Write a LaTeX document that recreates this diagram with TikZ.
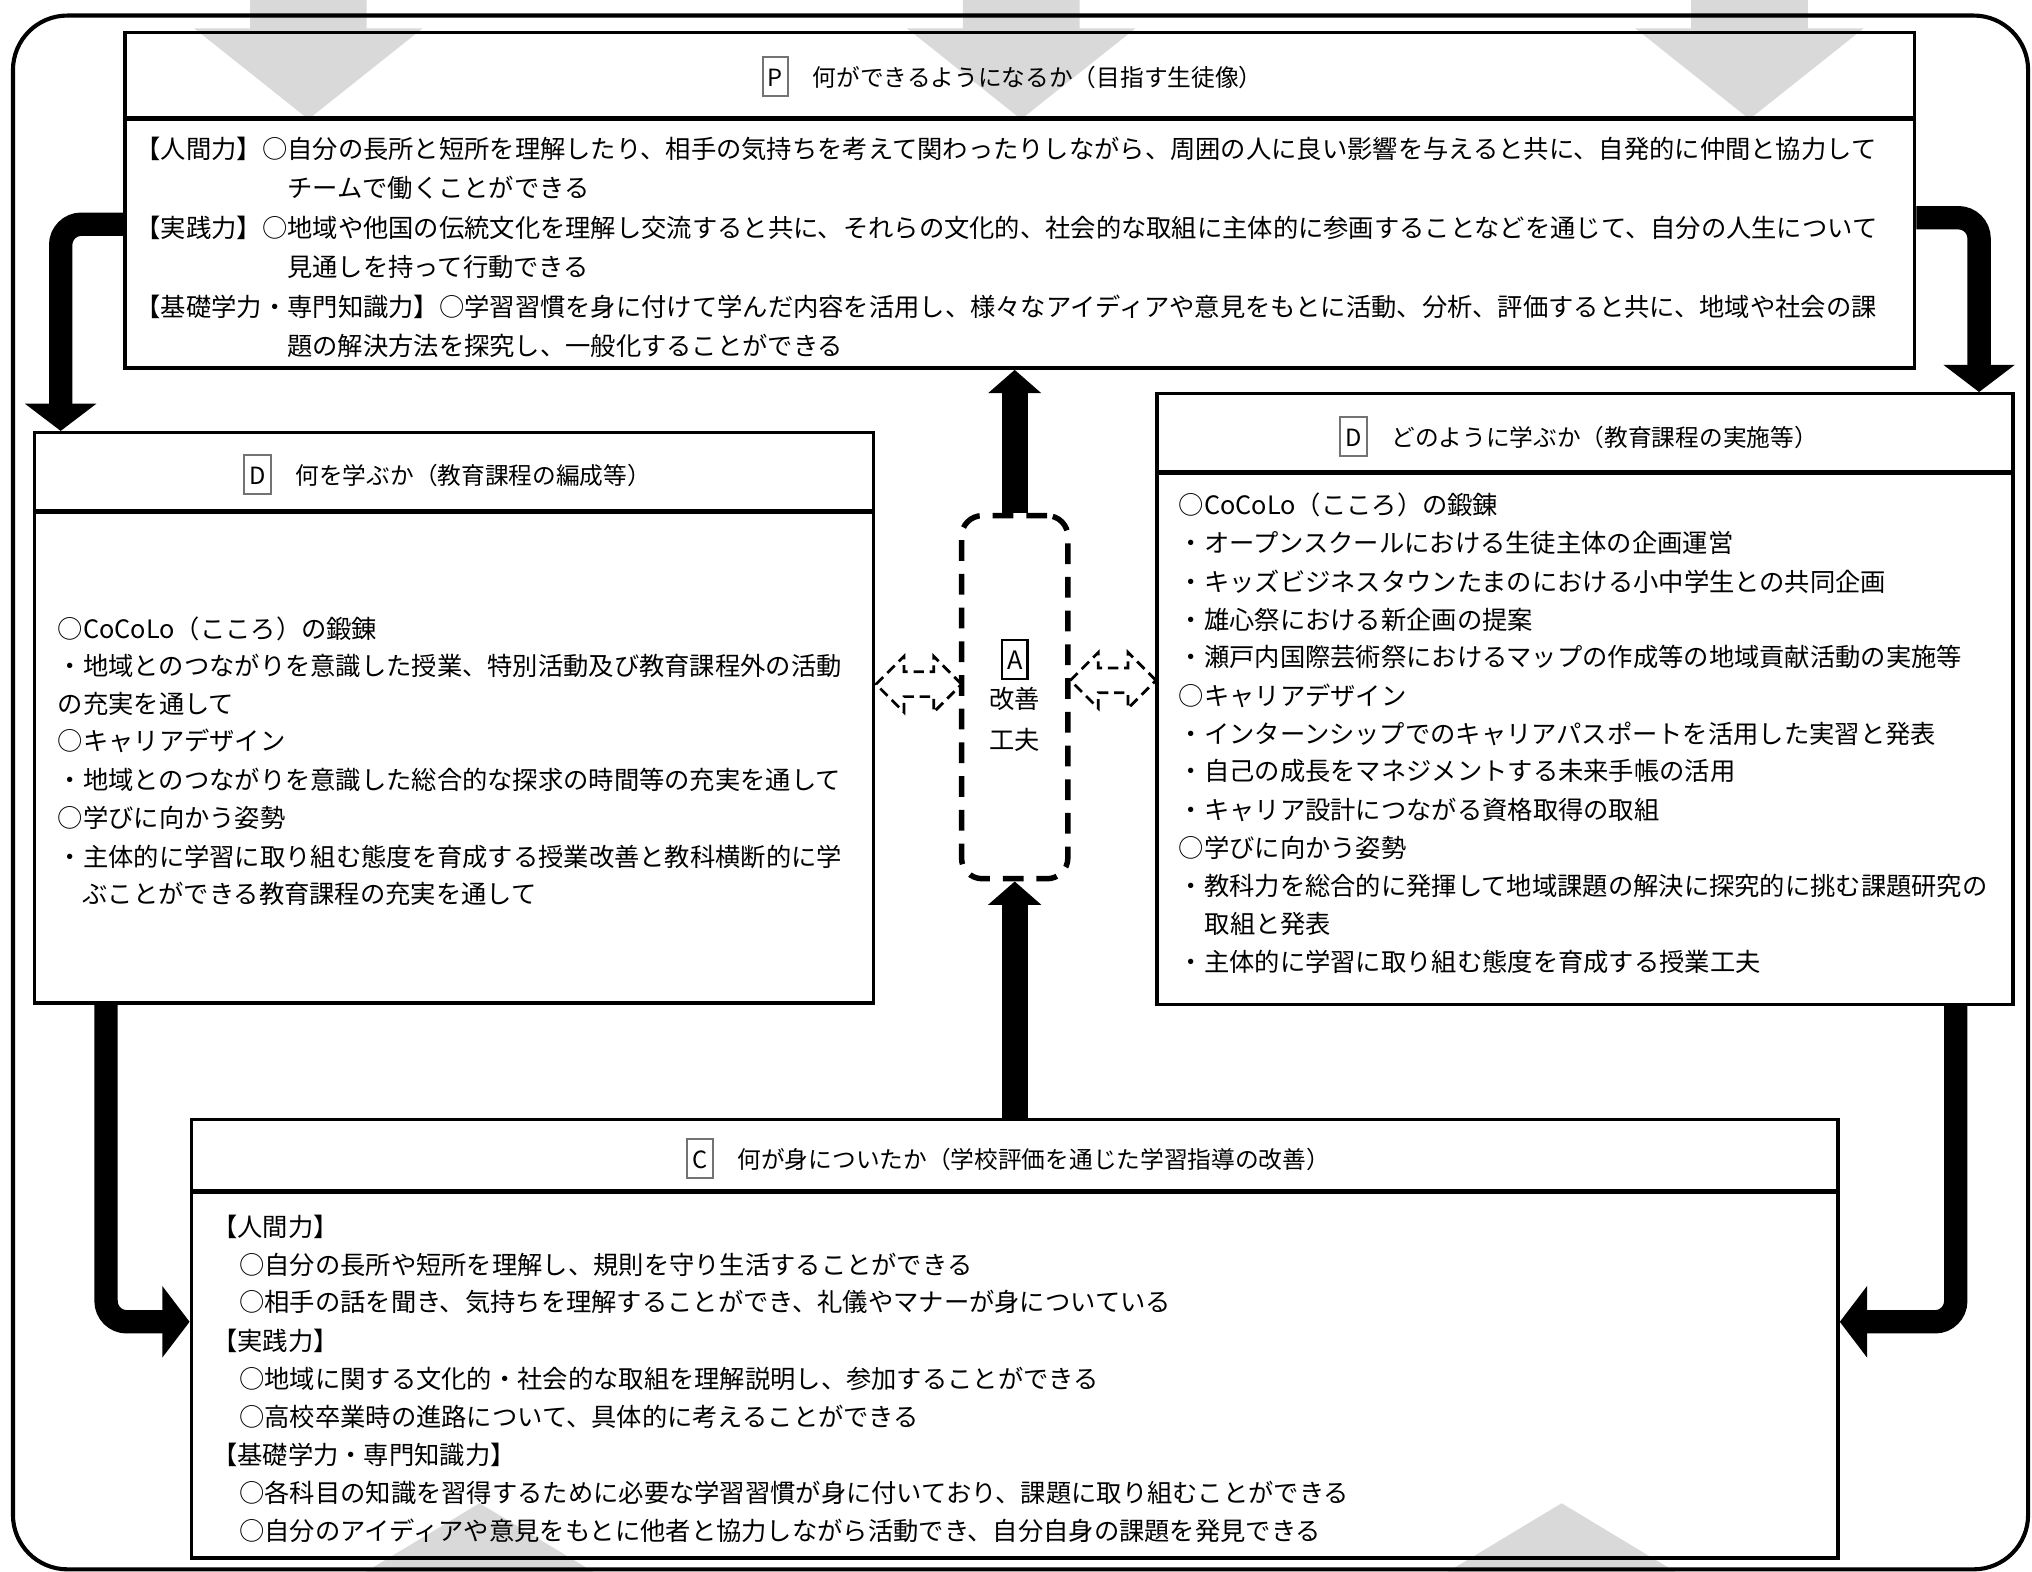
\documentclass[tikz,border=0pt]{standalone}
\usepackage{fontspec}
\setmainfont{Noto Sans CJK JP}
\usetikzlibrary{arrows.meta,shapes.arrows}

\newcommand{\tagbox}[2][black!55]{{\setlength{\fboxsep}{0.9pt}\setlength{\fboxrule}{0.45pt}\fcolorbox{#1}{white}{\rule[-1pt]{0pt}{6.4pt}#2}}}

\tikzset{
  cyclebox/.style={draw,line width=0.75pt,inner sep=0pt},
  headline/.style={line width=1.1pt},
  headtext/.style={font=\fontsize{5.2pt}{6pt}\selectfont},
  linetext/.style={anchor=west,text height=1.72mm,text depth=0.24mm},
  fatarrow/.style={line width=2mm,-{Triangle[width=4mm,length=1.8mm]}},
  looparrow/.style={line width=1.8mm,rounded corners=1.6mm,-{Triangle[width=5.4mm,length=2.1mm]}},
  swaparrow/.style={double arrow,draw,fill=white,line width=0.6pt,dash pattern=on 0.8mm off 0.45mm,inner sep=0.85mm,double arrow head extend=1.2mm,minimum height=6.6mm},
  greyarrow/.style={fill=black!15}
}

\begin{document}
\begin{tikzpicture}[x=0.01cm,y=-0.01cm,every node/.style={inner sep=0pt,font=\fontsize{5.55pt}{6pt}\selectfont}]
  \useasboundingbox (0,0) rectangle (1568,1213);
  % grey background arrows
  \foreach \c in {238,788,1350}
    \fill[greyarrow] (\c-45,0) -- (\c+45,0) -- (\c+45,22) -- (\c+88,22) -- (\c,92) -- (\c-88,22) -- (\c-45,22) -- cycle;
  \foreach \c in {370,1205}
    \fill[greyarrow] (\c,1160) -- (\c+88,1213) -- (\c-88,1213) -- cycle;
  \draw[line width=0.9pt,rounded corners=4.2mm] (10,12) rectangle (1565,1211);

  \node[cyclebox,minimum width=13.8cm,minimum height=2.59cm] (plan) at (787,154.5) {};
  \node[cyclebox,minimum width=6.47cm,minimum height=4.4cm] (doL) at (350.5,554) {};
  \node[cyclebox,minimum width=6.6cm,minimum height=4.71cm] (doR) at (1223,539.5) {};
  \node[cyclebox,minimum width=12.7cm,minimum height=3.38cm] (check) at (783,1033) {};
  \node[draw,line width=1.2pt,dash pattern=on 1.6mm off 1mm,rounded corners=1.6mm,minimum width=8.2mm,minimum height=28mm] (act) at (783,538) {};

  \draw[headline] ([yshift=-6.75mm]plan.north west) -- ([yshift=-6.75mm]plan.north east);
  \draw[headline] ([yshift=-6.2mm]doL.north west) -- ([yshift=-6.2mm]doL.north east);
  \draw[headline] ([yshift=-6.2mm]doR.north west) -- ([yshift=-6.2mm]doR.north east);
  \draw[headline] ([yshift=-5.7mm]check.north west) -- ([yshift=-5.7mm]check.north east);

  \node[headtext] (planHead) at (781,59) {\tagbox{P}\quad 何ができるようになるか（目指す生徒像）};
  \node[headtext] (doLHead) at (345,366) {\tagbox{D}\quad 何を学ぶか（教育課程の編成等）};
  \node[headtext] (doRHead) at (1218,337) {\tagbox{D}\quad どのように学ぶか（教育課程の実施等）};
  \node[headtext] (checkHead) at (778,894) {\tagbox{C}\quad 何が身についたか（学校評価を通じた学習指導の改善）};

  \node (actTag) at (783,509) {\tagbox[black]{A}};
  \node[linetext,anchor=center] (actTop) at (783,539) {改善};
  \node[linetext,anchor=center] (actBot) at (783,571) {工夫};

  \draw[fatarrow] (act.north) -- (act.north |- plan.south);
  \draw[fatarrow] (check.north) -- (act.south);
  \draw[looparrow] ([yshift=-1.85mm]plan.west) -| ([xshift=-3.035cm]doL.north);
  \draw[looparrow] ([yshift=-1.35mm]plan.east) -| ([xshift=3.04cm]doR.north);
  \draw[looparrow] ([xshift=-2.685cm]doL.south) |- ([yshift=1.3mm]check.west);
  \draw[looparrow] ([xshift=2.86cm]doR.south) |- ([yshift=1.3mm]check.east);
  \node[swaparrow] (swapL) at (709,528) {};
  \node[swaparrow] (swapR) at (859,525) {};

  \foreach \x/\y/\t [count=\i] in {
    104/115/{【人間力】○自分の長所と短所を理解したり、相手の気持ちを考えて関わったりしながら、周囲の人に良い影響を与えると共に、自発的に仲間と協力して},
    221/145/{チームで働くことができる},
    104/176/{【実践力】○地域や他国の伝統文化を理解し交流すると共に、それらの文化的、社会的な取組に主体的に参画することなどを通じて、自分の人生について},
    221/206/{見通しを持って行動できる},
    104/237/{【基礎学力・専門知識力】○学習習慣を身に付けて学んだ内容を活用し、様々なアイディアや意見をもとに活動、分析、評価すると共に、地域や社会の課},
    221/267/{題の解決方法を探究し、一般化することができる}}
    \node[linetext] (pl\i) at (\x,\y) {\t};

  \foreach \x/\y/\t [count=\i] in {
    44/485/{○CoCoLo（こころ）の鍛錬},
    44/514/{・地域とのつながりを意識した授業、特別活動及び教育課程外の活動},
    44/543/{の充実を通して},
    44/572/{○キャリアデザイン},
    44/602/{・地域とのつながりを意識した総合的な探求の時間等の充実を通して},
    44/631/{○学びに向かう姿勢},
    44/661/{・主体的に学習に取り組む態度を育成する授業改善と教科横断的に学},
    63/690/{ぶことができる教育課程の充実を通して}}
    \node[linetext] (dl\i) at (\x,\y) {\t};

  \foreach \x/\y/\t [count=\i] in {
    909/390/{○CoCoLo（こころ）の鍛錬},
    909/419/{・オープンスクールにおける生徒主体の企画運営},
    909/449/{・キッズビジネスタウンたまのにおける小中学生との共同企画},
    909/478/{・雄心祭における新企画の提案},
    909/507/{・瀬戸内国際芸術祭におけるマップの作成等の地域貢献活動の実施等},
    909/537/{○キャリアデザイン},
    909/566/{・インターンシップでのキャリアパスポートを活用した実習と発表},
    909/595/{・自己の成長をマネジメントする未来手帳の活用},
    909/625/{・キャリア設計につながる資格取得の取組},
    909/654/{○学びに向かう姿勢},
    909/684/{・教科力を総合的に発揮して地域課題の解決に探究的に挑む課題研究の},
    929/713/{取組と発表},
    909/742/{・主体的に学習に取り組む態度を育成する授業工夫}}
    \node[linetext] (dr\i) at (\x,\y) {\t};

  \foreach \x/\y/\t [count=\i] in {
    163/947/{【人間力】},
    184/976/{○自分の長所や短所を理解し、規則を守り生活することができる},
    184/1005/{○相手の話を聞き、気持ちを理解することができ、礼儀やマナーが身についている},
    163/1035/{【実践力】},
    184/1064/{○地域に関する文化的・社会的な取組を理解説明し、参加することができる},
    184/1093/{○高校卒業時の進路について、具体的に考えることができる},
    163/1123/{【基礎学力・専門知識力】},
    184/1152/{○各科目の知識を習得するために必要な学習習慣が身に付いており、課題に取り組むことができる},
    184/1181/{○自分のアイディアや意見をもとに他者と協力しながら活動でき、自分自身の課題を発見できる}}
    \node[linetext] (ck\i) at (\x,\y) {\t};
\end{tikzpicture}
\end{document}
